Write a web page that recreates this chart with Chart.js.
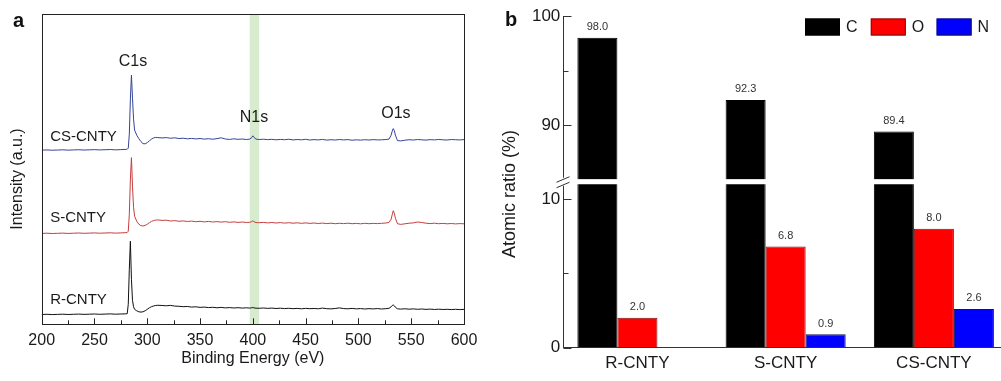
<!DOCTYPE html>
<html>
<head>
<meta charset="utf-8">
<script src="https://cdn.jsdelivr.net/npm/chart.js@4.4.1/dist/chart.umd.min.js"></script>
<style>
  html, body { margin: 0; padding: 0; background: #fff; overflow: hidden; width: 1001px; height: 381px; }
  #wrap { position: relative; width: 1001px; height: 381px; overflow: hidden; }
  canvas { position: absolute; top: 0; }
  #chartA { left: 0; }
  #chartB { left: 490px; }
  .tag { position: absolute; font: bold 20px "Liberation Sans", Arial, sans-serif; line-height: 20px; color: #111; }
</style>
</head>
<body>
<div id="wrap">
  <canvas id="chartA" width="490" height="381"></canvas>
  <canvas id="chartB" width="520" height="381"></canvas>
  <div class="tag" style="left:13px; top:10px;">a</div>
  <div class="tag" style="left:505px; top:9px;">b</div>
</div>
<script>
// ---------- Panel a: XPS survey spectra ----------
const energy = [
  200, 205, 210, 215, 220, 225, 230, 235, 240, 245, 250, 255, 260, 265, 270, 275, 279,
  281, 282, 283, 284, 285, 286, 287, 288,
  290, 292, 294, 296, 298, 300, 302, 304, 306, 308, 310,
  314, 318, 322, 326, 330, 334, 338, 342, 346, 350, 354, 358, 362, 366, 370, 374, 378, 382, 386, 390, 394,
  397, 399, 400, 401, 403,
  406, 410, 414, 418, 422, 426, 430, 434, 438, 442, 446, 450, 454, 458, 462, 466, 470, 474, 478, 482, 486, 490, 494, 498, 502, 506, 510, 514, 518, 522, 526,
  529, 531, 532, 533, 534, 535, 537,
  540, 544, 548, 552, 556, 560, 564, 568, 572, 576, 580, 584, 588, 592, 596, 600
];
const intensityCS = [
  174.0, 174.2, 173.9, 174.1, 174.3, 174.0, 174.2, 174.4, 174.1, 174.3, 174.5, 174.2, 174.4, 174.6, 174.3, 174.5, 174.7,
  174.9, 176, 190, 225, 249, 226, 205, 194,
  189, 185.5, 182.5, 180.5, 180.3, 181.5, 183.3, 185, 186.2, 186.7, 186.5,
  186.2, 186.5, 185.9, 186.3, 185.6, 185.9, 185.3, 185.7, 185.2, 185.6, 185.0, 185.4, 184.9, 185.5, 186.3, 185.1, 184.7, 185.3, 184.8, 185.1, 184.6,
  185.0, 186.6, 188.3, 186.8, 185.0,
  184.6, 184.9, 184.5, 184.8, 184.3, 184.7, 184.4, 184.9, 184.2, 184.6, 184.3, 184.8, 184.1, 184.5, 184.2, 184.7, 184.0, 184.4, 184.1, 184.6, 184.2, 184.5, 183.9, 184.3, 184.0, 184.4, 184.1, 184.5, 184.2, 184.3, 184.6,
  185, 189, 193, 195.5, 193.5, 189, 183.5,
  183.2, 183.9, 184.4, 184.1, 184.6, 184.3, 184.0, 184.5, 184.2, 184.7, 184.3, 184.1, 184.6, 184.4, 184.2, 184.5
];
const intensityS = [
  90.8, 91.0, 90.7, 90.9, 91.1, 90.8, 91.0, 91.2, 90.9, 91.1, 91.3, 91.0, 91.2, 91.4, 91.1, 91.3, 91.5,
  91.8, 93, 110, 145, 166.5, 138, 117, 108,
  103, 100, 98.6, 98.2, 98.8, 100, 101.5, 102.8, 103.6, 104.1, 104.3,
  103.8, 104.0, 103.2, 103.6, 102.9, 103.3, 102.7, 103.1, 102.5, 102.9, 102.3, 102.8, 102.2, 102.6, 102.1, 102.5, 101.9, 102.3, 101.8, 102.2, 101.7,
  101.9, 102.6, 103.4, 102.5, 101.6,
  101.5, 101.8, 101.3, 101.7, 101.2, 101.6, 101.1, 101.5, 101.0, 101.4, 100.9, 101.3, 100.8, 101.2, 100.7, 101.1, 100.6, 101.0, 100.5, 100.9, 100.6, 101.0, 100.5, 100.8, 100.4, 100.9, 100.5, 100.8, 100.6, 100.9, 101.2,
  101.8, 105, 109.5, 113.5, 111, 106, 100.5,
  99.8, 100.4, 101.0, 101.3, 102.2, 101.7, 101.0, 100.6, 101.0, 100.5, 100.8, 100.4, 100.7, 100.3, 100.6, 100.4
];
const intensityR = [
  9.8, 10.0, 9.7, 9.9, 10.1, 9.8, 10.0, 10.2, 9.9, 10.1, 10.3, 10.0, 10.2, 10.4, 10.1, 10.3, 10.4,
  10.6, 20, 55, 83, 45, 24, 17.5, 15,
  13.5, 12.5, 12.2, 12.5, 13.5, 15, 16.5, 17.6, 18.3, 18.8, 19,
  18.8, 18.5, 18.9, 18.2, 18.0, 17.6, 17.8, 17.2, 17.5, 16.9, 17.2, 16.7, 17.0, 16.5, 16.9, 16.4, 16.7, 16.3, 16.6, 16.2, 16.5,
  16.2, 16.5, 16.8, 16.4, 16.1,
  16.0, 16.3, 15.9, 16.2, 15.8, 16.1, 15.7, 16.0, 15.6, 15.9, 15.5, 15.9, 15.6, 15.8, 15.5, 16.2, 15.6, 15.4, 15.8, 16.4, 15.7, 15.5, 15.9, 15.4, 15.7, 15.3, 15.6, 15.4, 15.7, 15.3, 15.6,
  16.0, 17.5, 18.8, 19.3, 18.5, 17.0, 15.5,
  15.2, 15.5, 15.1, 15.4, 15.0, 15.3, 14.9, 15.2, 14.8, 15.1, 14.8, 15.0, 14.7, 15.0, 14.7, 14.9
];
const spectrumNames = ['CS-CNTY', 'S-CNTY', 'R-CNTY'];
const spectrumValues = [intensityCS, intensityS, intensityR];
const peakNames = ['C1s', 'N1s', 'O1s'];
const n1sWindow = [397, 406];

// ---------- Panel b: atomic ratios ----------
const samples = ['R-CNTY', 'S-CNTY', 'CS-CNTY'];
const carbon = [98.0, 92.3, 89.4];
const oxygen = [2.0, 6.8, 8.0];
const nitrogen = [null, 0.9, 2.6];
const lowerTicks = [0, 10];
const lowerMinorTicks = [5];
const upperTicks = [90, 100];
const upperMinorTicks = [95];
const breakLow = 11;
const breakHigh = 85;

const FONT = '"Liberation Sans", Arial, sans-serif';
const INK = '#1a1a1a';
Chart.defaults.font.family = FONT;
Chart.defaults.color = INK;

// ---------- helpers ----------
function rotatedText(ctx, text, x, y, size) {
  ctx.save();
  ctx.translate(x, y);
  ctx.rotate(-Math.PI / 2);
  ctx.font = size + 'px ' + FONT;
  ctx.fillStyle = INK;
  ctx.textAlign = 'center';
  ctx.textBaseline = 'middle';
  ctx.fillText(text, 0, 0);
  ctx.restore();
}

// ---------- Panel a plugins ----------
const spectraDecor = {
  id: 'spectraDecor',
  beforeDatasetsDraw(chart) {
    const { ctx, chartArea: a, scales: { x } } = chart;
    ctx.save();
    ctx.fillStyle = '#d7ebce';
    const x0 = x.getPixelForValue(n1sWindow[0]);
    const x1 = x.getPixelForValue(n1sWindow[1]);
    ctx.fillRect(x0, a.top, x1 - x0, a.bottom - a.top);
    ctx.restore();
  },
  afterDraw(chart) {
    const { ctx, chartArea: a, scales: { x, y } } = chart;
    ctx.save();
    // frame
    ctx.strokeStyle = '#222';
    ctx.lineWidth = 1;
    ctx.strokeRect(Math.round(a.left) + 0.5, Math.round(a.top) + 0.5,
      Math.round(a.right - a.left), Math.round(a.bottom - a.top));
    // inward tick marks: major every 50 eV, minor every 25 eV
    ctx.beginPath();
    for (let v = x.min; v <= x.max; v += 25) {
      const px = Math.round(x.getPixelForValue(v)) + 0.5;
      const len = (v % 50 === 0) ? 6 : 4;
      ctx.moveTo(px, a.bottom);
      ctx.lineTo(px, a.bottom - len);
    }
    ctx.stroke();
    // curve and peak labels
    ctx.fillStyle = INK;
    ctx.font = '15px ' + FONT;
    ctx.textBaseline = 'middle';
    ctx.textAlign = 'left';
    const curveAnchors = [[208, 187], [208, 106], [208, 24]];
    spectrumNames.forEach((n, i) => {
      ctx.fillText(n, x.getPixelForValue(curveAnchors[i][0]), y.getPixelForValue(curveAnchors[i][1]));
    });
    ctx.font = '16px ' + FONT;
    ctx.textAlign = 'center';
    const peakAnchors = [[286.5, 262], [401, 207], [535.5, 211]];
    peakNames.forEach((n, i) => {
      ctx.fillText(n, x.getPixelForValue(peakAnchors[i][0]), y.getPixelForValue(peakAnchors[i][1]));
    });
    ctx.restore();
    rotatedText(ctx, 'Intensity (a.u.)', 17.5, 179, 16);
  }
};

const spectrumColors = ['#34449a', '#c63e3e', '#111111'];
new Chart(document.getElementById('chartA'), {
  type: 'line',
  data: {
    datasets: spectrumValues.map((vals, i) => ({
      label: spectrumNames[i],
      data: energy.map((e, k) => ({ x: e, y: vals[k] })),
      borderColor: spectrumColors[i],
      borderWidth: 1,
      pointRadius: 0,
      tension: 0,
      fill: false
    }))
  },
  options: {
    responsive: false,
    animation: false,
    layout: { padding: { top: 14, right: 26, bottom: 0, left: 0 } },
    plugins: { legend: { display: false }, tooltip: { enabled: false } },
    scales: {
      x: {
        type: 'linear', min: 200, max: 600,
        ticks: { stepSize: 50, padding: 7, font: { size: 16 }, color: INK },
        grid: { display: false, drawTicks: false },
        border: { display: false },
        title: { display: true, text: 'Binding Energy (eV)', font: { size: 16 }, color: INK, padding: { top: 0, bottom: 13 } },
        afterFit(s) { s.height = 56.7; }
      },
      y: {
        type: 'linear', min: 0, max: 310,
        ticks: { display: false },
        grid: { display: false, drawTicks: false },
        border: { display: false },
        afterFit(s) { s.width = 41.7; }
      }
    }
  },
  plugins: [spectraDecor]
});

// ---------- Panel b plugins ----------
const brokenAxis = {
  id: 'brokenAxis',
  beforeDatasetDraw(chart, args) {
    const ds = chart.data.datasets[args.index];
    const { ctx, chartArea: a, scales } = chart;
    const s = scales[ds.yAxisID];
    let top, bottom;
    if (ds.yAxisID === 'yHigh') { top = a.top; bottom = s.getPixelForValue(breakHigh); }
    else { top = s.getPixelForValue(breakLow); bottom = a.bottom; }
    ctx.save();
    ctx.beginPath();
    ctx.rect(a.left, top, a.right - a.left, bottom - top);
    ctx.clip();
  },
  afterDatasetDraw(chart) { chart.ctx.restore(); },
  afterDatasetsDraw(chart) {
    const { ctx } = chart;
    ctx.save();
    ctx.fillStyle = '#333';
    ctx.font = '11px ' + FONT;
    ctx.textAlign = 'center';
    ctx.textBaseline = 'bottom';
    chart.data.datasets.forEach((ds, i) => {
      if (!ds.showValues) return;
      chart.getDatasetMeta(i).data.forEach((bar, j) => {
        const v = ds.data[j];
        if (v === null || v === undefined) return;
        ctx.fillText(v.toFixed(1), bar.x, bar.y - 5);
      });
    });
    ctx.restore();
  },
  afterDraw(chart) {
    const { ctx, chartArea: a, scales: { yLow, yHigh } } = chart;
    const L = Math.round(a.left) + 0.5;
    const b = yHigh.bottom;
    ctx.save();
    ctx.strokeStyle = '#333';
    ctx.lineWidth = 1;
    ctx.beginPath();
    // axis line, interrupted at the break
    ctx.moveTo(L, a.top); ctx.lineTo(L, b - 4);
    ctx.moveTo(L, b + 4); ctx.lineTo(L, a.bottom);
    // break marks
    ctx.moveTo(L - 7, b + 0.5); ctx.lineTo(L + 6, b - 5);
    ctx.moveTo(L - 7, b + 6); ctx.lineTo(L + 6, b + 0.5);
    // inward ticks
    const tick = (scale, v, len) => {
      const py = Math.round(scale.getPixelForValue(v)) + 0.5;
      ctx.moveTo(L, py); ctx.lineTo(L + len, py);
    };
    upperTicks.forEach(v => tick(yHigh, v, 8));
    lowerTicks.forEach(v => tick(yLow, v, 8));
    upperMinorTicks.forEach(v => tick(yHigh, v, 5));
    lowerMinorTicks.forEach(v => tick(yLow, v, 5));
    ctx.stroke();

    // legend
    const items = chart.data.datasets.filter(d => d.inLegend);
    const x0 = a.right - 203, top = 18.5, w = 35, h = 17, step = 65.8;
    ctx.font = '16px ' + FONT;
    ctx.textBaseline = 'middle';
    ctx.textAlign = 'left';
    items.forEach((d, i) => {
      const bx = x0 + i * step;
      ctx.fillStyle = d.backgroundColor;
      ctx.fillRect(bx, top, w, h);
      ctx.strokeStyle = d.borderColor;
      ctx.strokeRect(bx + 0.5, top + 0.5, w - 1, h - 1);
      ctx.fillStyle = INK;
      ctx.fillText(d.label, bx + w + 6, top + h / 2 + 0.5);
    });
    ctx.restore();
    rotatedText(ctx, 'Atomic ratio (%)', 20, 194, 18);
  }
};

new Chart(document.getElementById('chartB'), {
  type: 'bar',
  data: {
    labels: samples,
    datasets: [
      { label: 'C', data: carbon, yAxisID: 'yHigh', stack: 'C', base: breakHigh,
        backgroundColor: '#000000', borderColor: '#000000', borderWidth: 1, showValues: true, inLegend: true },
      { label: 'C', data: carbon, yAxisID: 'yLow', stack: 'C',
        backgroundColor: '#000000', borderColor: '#000000', borderWidth: 1 },
      { label: 'O', data: oxygen, yAxisID: 'yLow', stack: 'O',
        backgroundColor: '#ff0000', borderColor: '#7a1010', borderWidth: 1, showValues: true, inLegend: true },
      { label: 'N', data: nitrogen, yAxisID: 'yLow', stack: 'N',
        backgroundColor: '#0000ff', borderColor: '#101060', borderWidth: 1, showValues: true, inLegend: true }
    ]
  },
  options: {
    responsive: false,
    animation: false,
    datasets: { bar: { categoryPercentage: 0.81, barPercentage: 1 } },
    layout: { padding: { top: 16, right: 2, bottom: 0, left: 0 } },
    plugins: { legend: { display: false }, tooltip: { enabled: false } },
    scales: {
      x: {
        type: 'category',
        grid: { display: false, drawTicks: false },
        border: { display: true, color: '#333', width: 1 },
        ticks: { font: { size: 17 }, color: INK, padding: 6 },
        afterFit(s) { s.height = 33.5; }
      },
      yLow: {
        type: 'linear', position: 'left', stack: 'ratio', stackWeight: 1, stacked: false,
        min: 0, max: 11.17,
        afterBuildTicks(s) { s.ticks = lowerTicks.map(v => ({ value: v })); },
        grid: { display: false, drawTicks: false },
        border: { display: false },
        ticks: { font: { size: 17 }, color: INK, padding: 3 },
        afterFit(s) { s.width = 73.3; }
      },
      yHigh: {
        type: 'linear', position: 'left', stack: 'ratio', stackWeight: 1, stacked: false,
        min: 84.8, max: 100,
        afterBuildTicks(s) { s.ticks = upperTicks.map(v => ({ value: v })); },
        grid: { display: false, drawTicks: false },
        border: { display: false },
        ticks: { font: { size: 17 }, color: INK, padding: 3 },
        afterFit(s) { s.width = 73.3; }
      }
    }
  },
  plugins: [brokenAxis]
});
</script>
</body>
</html>
